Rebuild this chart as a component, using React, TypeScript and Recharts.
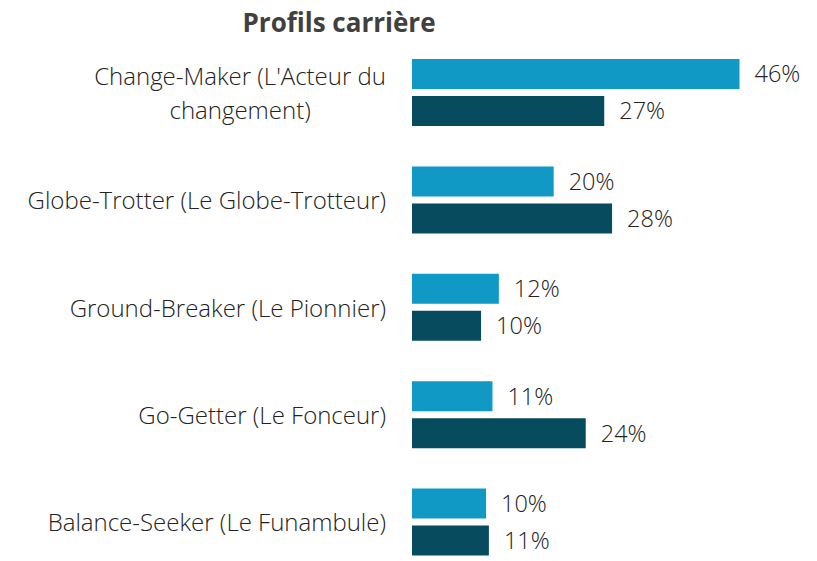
import React from 'react';
import { BarChart, Bar, XAxis, YAxis, LabelList } from 'recharts';

const categories = [
  "Change-Maker (L'Acteur du changement)",
  'Globe-Trotter (Le Globe-Trotteur)',
  'Ground-Breaker (Le Pionnier)',
  'Go-Getter (Le Fonceur)',
  'Balance-Seeker (Le Funambule)',
];
const seriesA = [46, 19.9, 12.2, 11.3, 10.4];
const seriesB = [27, 28.1, 9.7, 24.4, 10.8];
const title = 'Profils carrière';

const data = categories.map((c, i) => ({ name: c, a: seriesA[i], b: seriesB[i] }));

const FONT = '"Open Sans", sans-serif';
const TEXT_COLOR = '#222222';
const FS = 24;
const VFS = 23.5;
const FW = 300;

let ctx: CanvasRenderingContext2D | null = null;
function measure(t: string): number {
  if (!ctx) {
    const c = document.createElement('canvas');
    ctx = c.getContext('2d');
  }
  if (!ctx) return t.length * 11;
  ctx.font = `${FW} ${FS}px "Open Sans"`;
  return ctx.measureText(t).width;
}

function wrap(text: string, maxW: number): string[] {
  const words = text.split(' ');
  const lines: string[] = [];
  let cur = '';
  for (const w of words) {
    const test = cur ? cur + ' ' + w : w;
    if (measure(test) > maxW && cur) {
      lines.push(cur);
      cur = w;
    } else {
      cur = test;
    }
  }
  if (cur) lines.push(cur);
  return lines;
}

const CategoryTick = (props: any) => {
  const { x, y, payload } = props;
  const lines = wrap(String(payload.value), 375);
  const maxW = Math.max(...lines.map(measure));
  const cx = x - 18 - maxW / 2;
  const lh = 34;
  const startY = y - 1 - ((lines.length - 1) * lh) / 2;
  return (
    <text
      x={cx}
      y={startY}
      textAnchor="middle"
      dominantBaseline="central"
      fontFamily={FONT}
      fontSize={FS}
      fontWeight={FW}
      fill={TEXT_COLOR}
    >
      {lines.map((l, i) => (
        <tspan key={i} x={cx} y={startY + i * lh}>
          {l}
        </tspan>
      ))}
    </text>
  );
};

const fmt = (v: any) => `${Math.round(Number(v))}%`;

export default function App() {
  return (
    <div style={{ position: 'absolute', left: 0, top: 0, width: 817, height: 561, overflow: 'hidden', background: '#fff' }}>
      <div
        style={{
          position: 'absolute',
          left: 339,
          top: 22,
          transform: 'translate(-50%, -50%)',
          fontFamily: FONT,
          fontWeight: 700,
          fontSize: 26,
          color: '#404040',
          whiteSpace: 'nowrap',
        }}
      >
        {title}
      </div>
      <BarChart
        width={817}
        height={580}
        data={data}
        layout="vertical"
        margin={{ top: 39, right: 49, bottom: 4, left: 0 }}
        barSize={30}
        barGap={7}
        style={{ position: 'absolute', left: 0, top: 0 }}
      >
        <XAxis type="number" domain={[0, 50]} hide />
        <YAxis
          type="category"
          dataKey="name"
          width={412}
          axisLine={false}
          tickLine={false}
          tick={<CategoryTick />}
          interval={0}
        />
        <Bar dataKey="a" fill="#1099C4" isAnimationActive={false}>
          <LabelList dataKey="a" position="right" offset={15} formatter={fmt} fill={TEXT_COLOR} fontSize={VFS} fontWeight={FW} fontFamily={FONT} />
        </Bar>
        <Bar dataKey="b" fill="#074B5F" isAnimationActive={false}>
          <LabelList dataKey="b" position="right" offset={15} formatter={fmt} fill={TEXT_COLOR} fontSize={VFS} fontWeight={FW} fontFamily={FONT} />
        </Bar>
      </BarChart>
    </div>
  );
}
